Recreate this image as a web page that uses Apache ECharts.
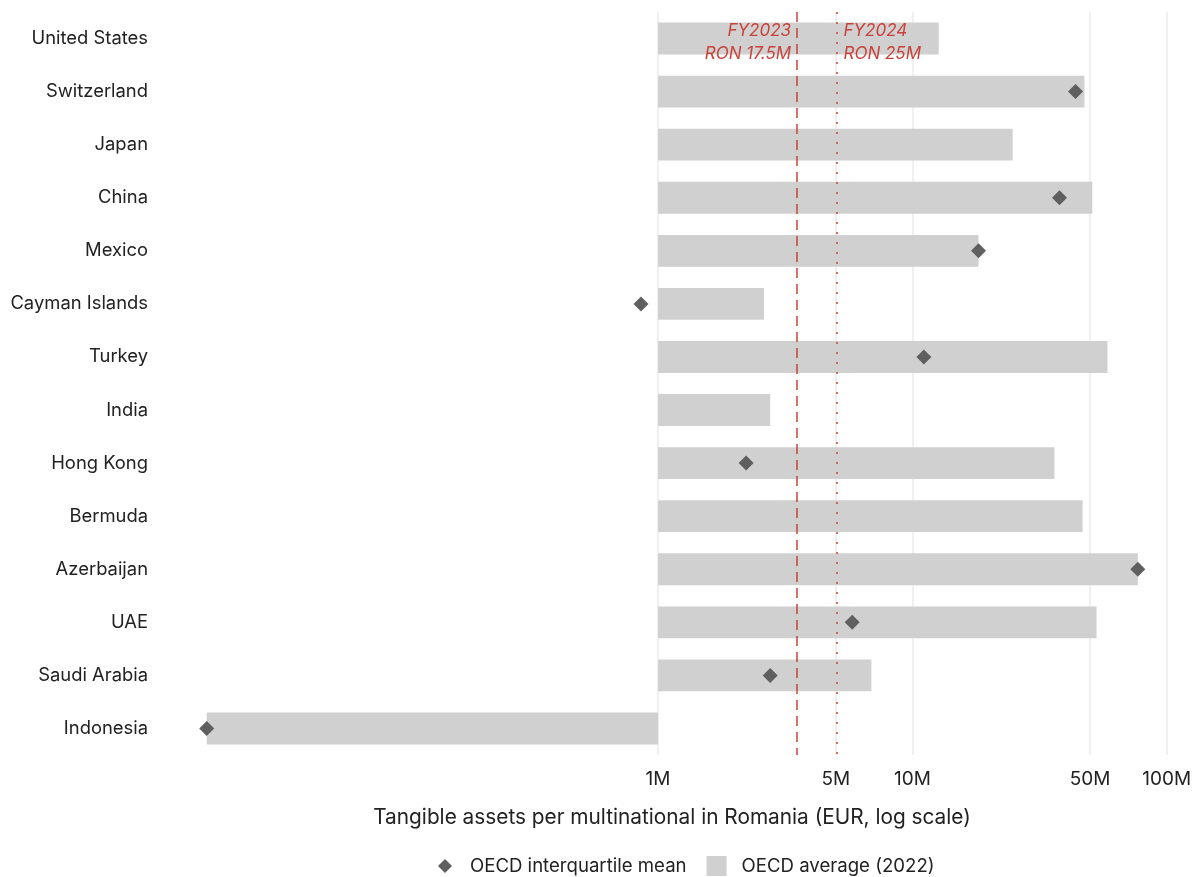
<!DOCTYPE html>
<html>
<head>
<meta charset="utf-8">
<title>Tangible assets per multinational in Romania</title>
<script src="https://cdn.jsdelivr.net/npm/echarts@6/dist/echarts.min.js"></script>
<style>
  html, body { margin: 0; padding: 0; background: #ffffff; }
  #chart { width: 1197px; height: 877px; }
</style>
</head>
<body>
<div id="chart"></div>
<script>
// Parent jurisdictions of multinationals operating in Romania
const countries = [
  'United States', 'Switzerland', 'Japan', 'China', 'Mexico', 'Cayman Islands',
  'Turkey', 'India', 'Hong Kong', 'Bermuda', 'Azerbaijan', 'UAE',
  'Saudi Arabia', 'Indonesia'
];

// OECD average tangible assets per multinational (EUR, 2022)
const oecdAverage = [
  12.7e6, 47.5e6, 24.8e6, 51.0e6, 18.2e6, 2.61e6,
  58.5e6, 2.76e6, 36.2e6, 46.7e6, 77.0e6, 53.0e6,
  6.9e6, 16.8e3
];

// OECD interquartile mean (EUR); null where not reported
const oecdIqMean = [
  null, 43.8e6, null, 37.9e6, 18.2e6, 0.857e6,
  11.1e6, null, 2.22e6, null, 77.0e6, 5.8e6,
  2.76e6, 16.8e3
];

// Bars are drawn from this reference value on the log axis
const barBase = 1e6;

// Log axis limits (EUR)
const axisMin = 11000;
const axisMax = 1.17e8;

// Labelled axis values
const tickValues = [1e6, 5e6, 1e7, 5e7, 1e8];
const tickLabels = ['1M', '5M', '10M', '50M', '100M'];

// Reporting thresholds converted to EUR
const thresholdValues = [3.52e6, 5.03e6];
const thresholdLabels = ['FY2023\nRON 17.5M', 'FY2024\nRON 25M'];

const RED = '#c9423a';
const TEXT = '#222222';
const FONT = 'Inter, "Noto Sans", sans-serif';

const chart = echarts.init(document.getElementById('chart'), null, { renderer: 'canvas' });

const barData = countries.map((c, i) => [oecdAverage[i], c]);
const diamondData = countries
  .map((c, i) => (oecdIqMean[i] == null ? null : [oecdIqMean[i], c]))
  .filter(d => d !== null);

const option = {
  backgroundColor: '#ffffff',
  animation: false,
  textStyle: { fontFamily: FONT },
  grid: {
    left: 160, right: 13, top: 12, bottom: 122,
    outerBoundsMode: 'none'
  },
  legend: {
    left: 430,
    top: 851,
    itemWidth: 20,
    itemHeight: 20,
    itemGap: 20,
    textStyle: { fontSize: 18.6, color: TEXT, fontFamily: FONT, padding: [0, 0, 0, 10] },
    data: [
      { name: 'OECD interquartile mean', icon: 'path://M0,0 M10,3 L17,10 L10,17 L3,10 Z M20,20', itemStyle: { color: '#5f5f5f', opacity: 1 } },
      { name: 'OECD average (2022)', icon: 'rect', itemStyle: { color: '#d0d0d0' } }
    ]
  },
  xAxis: {
    type: 'log',
    logBase: 10,
    min: axisMin,
    max: axisMax,
    name: 'Tangible assets per multinational in Romania (EUR, log scale)',
    nameLocation: 'middle',
    nameGap: 52,
    nameTextStyle: { fontSize: 20.8, color: TEXT, fontFamily: FONT },
    axisLine: { show: false },
    axisTick: { show: false, customValues: tickValues },
    axisLabel: {
      customValues: tickValues,
      fontSize: 19,
      color: TEXT,
      margin: 15,
      formatter: v => {
        const idx = tickValues.findIndex(t => Math.abs(t - v) / t < 1e-6);
        return idx >= 0 ? tickLabels[idx] : '';
      }
    },
    splitLine: { show: true, lineStyle: { color: '#ebebeb', width: 1.5 } }
  },
  yAxis: {
    type: 'category',
    data: countries,
    inverse: true,
    axisLine: { show: false },
    axisTick: { show: false },
    axisLabel: { fontSize: 18.4, color: TEXT, margin: 12, fontFamily: FONT },
    splitLine: { show: false }
  },
  series: [
    {
      name: 'OECD average (2022)',
      type: 'custom',
      itemStyle: { color: '#d0d0d0' },
      encode: { x: 0, y: 1 },
      data: barData,
      z: 1,
      renderItem: (params, api) => {
        const catIdx = api.value(1);
        const start = api.coord([barBase, catIdx]);
        const end = api.coord([api.value(0), catIdx]);
        const band = api.size([0, 1])[1];
        const h = band * 0.6;
        const x0 = Math.min(start[0], end[0]);
        const w = Math.abs(end[0] - start[0]);
        return {
          type: 'rect',
          shape: { x: x0, y: start[1] - h / 2, width: w, height: h },
          style: { fill: '#d0d0d0' }
        };
      }
    },
    {
      name: 'OECD interquartile mean',
      type: 'scatter',
      symbol: 'diamond',
      symbolSize: 15,
      itemStyle: { color: '#5f5f5f', opacity: 1 },
      data: diamondData,
      z: 3,
      markLine: {
        silent: true,
        symbol: 'none',
        label: { show: false },
        data: [
          { xAxis: thresholdValues[0], lineStyle: { color: RED, width: 1.5, type: [10, 6] } },
          { xAxis: thresholdValues[1], lineStyle: { color: RED, width: 1.5, type: [2, 8] } }
        ]
      },
      markPoint: {
        silent: true,
        symbol: 'circle',
        symbolSize: 0,
        itemStyle: { color: 'rgba(0,0,0,0)' },
        data: [
          {
            coord: [thresholdValues[0], countries[0]],
            label: {
              show: true, position: 'left', distance: 6, formatter: thresholdLabels[0],
              align: 'right', color: RED, fontStyle: 'italic', fontSize: 17, lineHeight: 23,
              fontFamily: FONT, offset: [0, 4]
            }
          },
          {
            coord: [thresholdValues[1], countries[0]],
            label: {
              show: true, position: 'right', distance: 7, formatter: thresholdLabels[1],
              align: 'left', color: RED, fontStyle: 'italic', fontSize: 17, lineHeight: 23,
              fontFamily: FONT, offset: [0, 4]
            }
          }
        ]
      }
    }
  ]
};

chart.setOption(option);
</script>
</body>
</html>
